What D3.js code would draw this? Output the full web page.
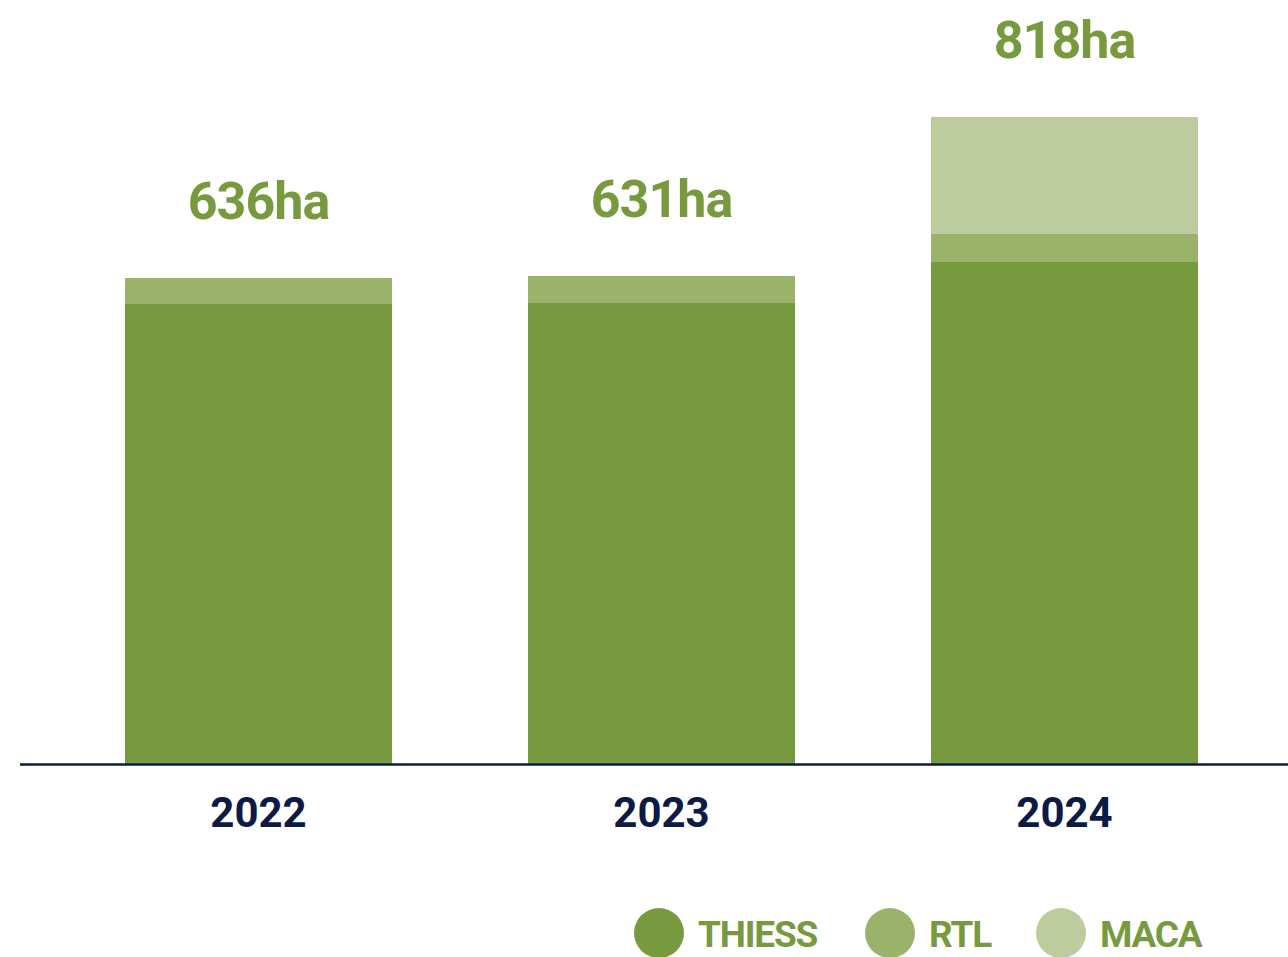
<!DOCTYPE html>
<html>
<head>
<meta charset="utf-8">
<script src="https://cdn.jsdelivr.net/npm/d3@7"></script>
<style>
    body { margin: 0; background: #fff; }
    svg { display: block; font-family: Roboto, "Noto Sans", sans-serif; }
</style>
</head>
<body>
<svg id="chart" width="1288" height="957"></svg>
<script>
var years = ['2022', '2023', '2024'];
var series = ['THIESS', 'RTL', 'MACA'];
var thiess = [582, 583, 635];
var rtl = [32, 34, 35];
var maca = [0, 0, 148];
var totalLabels = ['636ha', '631ha', '818ha'];
var colors = ['#789a3e', '#9bb26b', '#bdcc9f'];

var navy = '#0d1a45';
var svg = d3.select('#chart');

var rows = years.map(function(y, i) {
    return { year: y, THIESS: thiess[i], RTL: rtl[i], MACA: maca[i], label: totalLabels[i] };
});
var stacked = d3.stack().keys(series)(rows);

var x = d3.scaleBand().domain(years).range([57, 1266]).paddingInner(0.3375).paddingOuter(0.16875);
var y = d3.scaleLinear().domain([0, 818]).range([764, 117]);
var color = d3.scaleOrdinal().domain(series).range(colors);

// bars
svg.append('g').attr('shape-rendering', 'crispEdges').selectAll('g')
    .data(stacked)
    .join('g')
    .attr('fill', function(d) { return color(d.key); })
    .selectAll('rect')
    .data(function(d) { return d; })
    .join('rect')
    .attr('x', function(d) { return x(d.data.year); })
    .attr('width', x.bandwidth())
    .attr('y', function(d) { return y(d[1]); })
    .attr('height', function(d) { return y(d[0]) - y(d[1]); });

// baseline
svg.append('line')
    .attr('x1', 20).attr('x2', 1288)
    .attr('y1', y(0) + 0.5).attr('y2', y(0) + 0.5)
    .attr('stroke', navy).attr('stroke-width', 2.5);

// year labels
var xAxis = d3.axisBottom(x).tickSize(0).tickPadding(0);
var ax = svg.append('g').attr('transform', 'translate(0,' + y(0) + ')').call(xAxis);
ax.select('.domain').remove();
ax.selectAll('text')
    .attr('dy', null)
    .attr('y', 63)
    .attr('fill', navy)
    .style('font-size', '42px')
    .style('font-weight', 700)
    .style('font-family', 'Roboto, sans-serif');

// total labels
var topLayer = stacked[stacked.length - 1];
svg.append('g').selectAll('text')
    .data(topLayer)
    .join('text')
    .attr('x', function(d) { return x(d.data.year) + x.bandwidth() / 2; })
    .attr('y', function(d) { return y(d[1]) - 59; })
    .attr('text-anchor', 'middle')
    .attr('fill', '#789a3e')
    .style('font-size', '52px')
    .style('font-weight', 700)
    .style('letter-spacing', '-1px')
    .text(function(d) { return d.data.label; });

// legend
var legendX = [659, 890, 1061];
var legend = svg.append('g').selectAll('g')
    .data(series)
    .join('g')
    .attr('transform', function(d, i) { return 'translate(' + legendX[i] + ',933)'; });
legend.append('circle').attr('r', 25).attr('fill', function(d) { return color(d); });
legend.append('text')
    .attr('x', 39)
    .attr('y', 14)
    .attr('fill', '#789a3e')
    .style('font-size', '37px')
    .style('font-weight', 700)
    .style('letter-spacing', '-1.2px')
    .text(function(d) { return d; });
</script>
</body>
</html>
